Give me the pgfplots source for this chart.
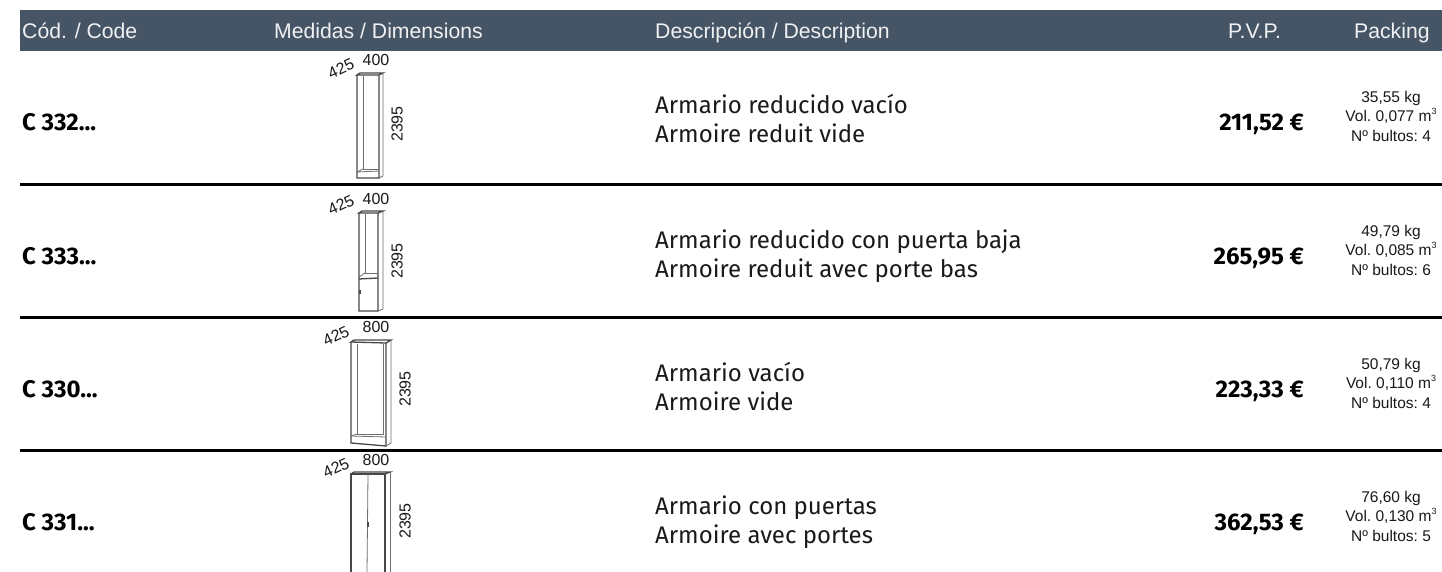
\documentclass[border=0pt]{standalone}
\usepackage{fontspec}
\usepackage{pgfplots}
\pgfplotsset{compat=1.18}
\setmainfont{Liberation Sans}
\newfontfamily\fira{Fira Sans}
\newfontfamily\firab[BoldFont=Fira Sans Bold]{Fira Sans}
\definecolor{hdr}{HTML}{465566}
\definecolor{ink}{HTML}{1A1A1A}
\definecolor{draw}{HTML}{484848}
\newcommand{\px}[1]{\fontsize{#1pt}{#1pt}\selectfont}
\newcommand{\cube}{\raisebox{0.42em}{\px{9}3}}
\newcommand{\hd}[3]{\node[anchor=base #1,text=white!92!hdr,inner sep=0pt] at (axis cs:#2,38.5) {\px{21.2}#3};}
\newcommand{\row}[9]{%
 \node[anchor=base west,inner sep=0pt,text=black] at (axis cs:22,#1+8.5) {\px{24}\firab\bfseries #2};
 \node[anchor=base west,inner sep=0pt,text=ink] at (axis cs:655,#9-9.3) {\px{24}\fira #3};
 \node[anchor=base west,inner sep=0pt,text=ink] at (axis cs:655,#9+19.7) {\px{24}\fira #4};
 \node[anchor=base east,inner sep=0pt,text=black] at (axis cs:1304,#1+8.5) {\px{24}\firab\bfseries #5};
 \node[anchor=base,inner sep=0pt,text=ink] at (axis cs:1391,#1-19.5) {\px{15.5}\frenchspacing #6};
 \node[anchor=base,inner sep=0pt,text=ink] at (axis cs:1391,#1-0.5) {\px{15.5}\frenchspacing #7};
 \node[anchor=base,inner sep=0pt,text=ink] at (axis cs:1391,#1+19.5) {\px{15.5}\frenchspacing #8};
}
\newcommand{\dims}[7]{%
 \node[inner sep=0pt,text=ink] at (axis cs:#1,#2) {\px{16}#3};
 \node[inner sep=0pt,text=ink,rotate=25] at (axis cs:#4,#5) {\px{16}425};
 \node[inner sep=0pt,text=ink,rotate=90] at (axis cs:#6,#7) {\px{16}2395};
}
\pgfplotsset{L/.style={draw=draw,line width=1.3pt},T/.style={draw=draw!80,line width=0.8pt},R/.style={draw=black,line width=2.4pt}}
\begin{document}
\begin{tikzpicture}
\begin{axis}[hide axis,scale only axis,width=1442pt,height=572pt,xmin=0,xmax=1442,ymin=0,ymax=572,y dir=reverse,clip=true,clip mode=individual]
% page and header band
\addplot[draw=none,fill=white] coordinates {(0,0)(1442,0)(1442,572)(0,572)};
\addplot[draw=none,fill=hdr] coordinates {(20,10)(1442,10)(1442,51)(20,51)};
% row rules
\addplot[R] coordinates {(20,184.5)(1442,184.5)};
\addplot[R] coordinates {(20,317.5)(1442,317.5)};
\addplot[R] coordinates {(20,450.5)(1442,450.5)};
% cabinet 1
\addplot[L] coordinates {(357,75)(357,178)(379,178)(379,75)(357,75)(360,73)(383,73)(379,75)};
\addplot[T] coordinates {(383,73)(383,176)(379,178)};
\addplot[T] coordinates {(363,76)(363,169)(378,169)};
\addplot[T] coordinates {(357,172)(379,171)};
\addplot[T] coordinates {(363,169)(357,172)};
% cabinet 2
\addplot[L] coordinates {(359,213)(359,311)(378,311)(378,213)(359,213)(362,211)(383,211)(378,213)};
\addplot[T] coordinates {(383,211)(383,309)(378,311)};
\addplot[T] coordinates {(365,214)(365,273)(378,273)};
\addplot[L] coordinates {(359,279)(378,278)};
\addplot[T] coordinates {(365,273)(359,277)};
\addplot[L] coordinates {(360,290)(360,294)};
% cabinet 3
\addplot[L] coordinates {(351,342)(351,443)(386,446)(386,343)(351,342)(354,340)(391,340)(386,343)};
\addplot[T] coordinates {(391,340)(391,443)(386,446)};
\addplot[T] coordinates {(357,344)(357,434)(383,434)(383,344)};
\addplot[T] coordinates {(351,436)(386,437)};
\addplot[T] coordinates {(357,434)(351,436)};
% cabinet 4
\addplot[L] coordinates {(351,572)(351,474)(385,474)(385,572)};
\addplot[L] coordinates {(351,474)(354,472)(390,472)(385,474)};
\addplot[T] coordinates {(390,472)(390,572)};
\addplot[T] coordinates {(368,474)(367,572)};
\addplot[L] coordinates {(368,522)(368,527)};
% header text
\hd{west}{22}{Cód. / Code}
\hd{west}{274}{Medidas / Dimensions}
\hd{west}{655}{Descripción / Description}
\hd{west}{1228}{P.V.P.}
\hd{west}{1354}{Packing}
% rows
\row{122}{C 332...}{Armario reducido vacío}{Armoire reduit vide}{211,52 €}{35,55 kg}{Vol. 0,077 m\cube}{Nº bultos: 4}{123}
\row{256}{C 333...}{Armario reducido con puerta baja}{Armoire reduit avec porte bas}{265,95 €}{49,79 kg}{Vol. 0,085 m\cube}{Nº bultos: 6}{257.5}
\row{389}{C 330...}{Armario vacío}{Armoire vide}{223,33 €}{50,79 kg}{Vol. 0,110 m\cube}{Nº bultos: 4}{391}
\row{522}{C 331...}{Armario con puertas}{Armoire avec portes}{362,53 €}{76,60 kg}{Vol. 0,130 m\cube}{Nº bultos: 5}{524}
\dims{376}{60}{400}{341}{68.5}{397}{124}
\dims{376}{199}{400}{341}{205}{397}{261}
\dims{376}{327}{800}{336}{336}{405}{389}
\dims{376}{460}{800}{336}{468}{405}{521}
\end{axis}
\end{tikzpicture}
\end{document}
